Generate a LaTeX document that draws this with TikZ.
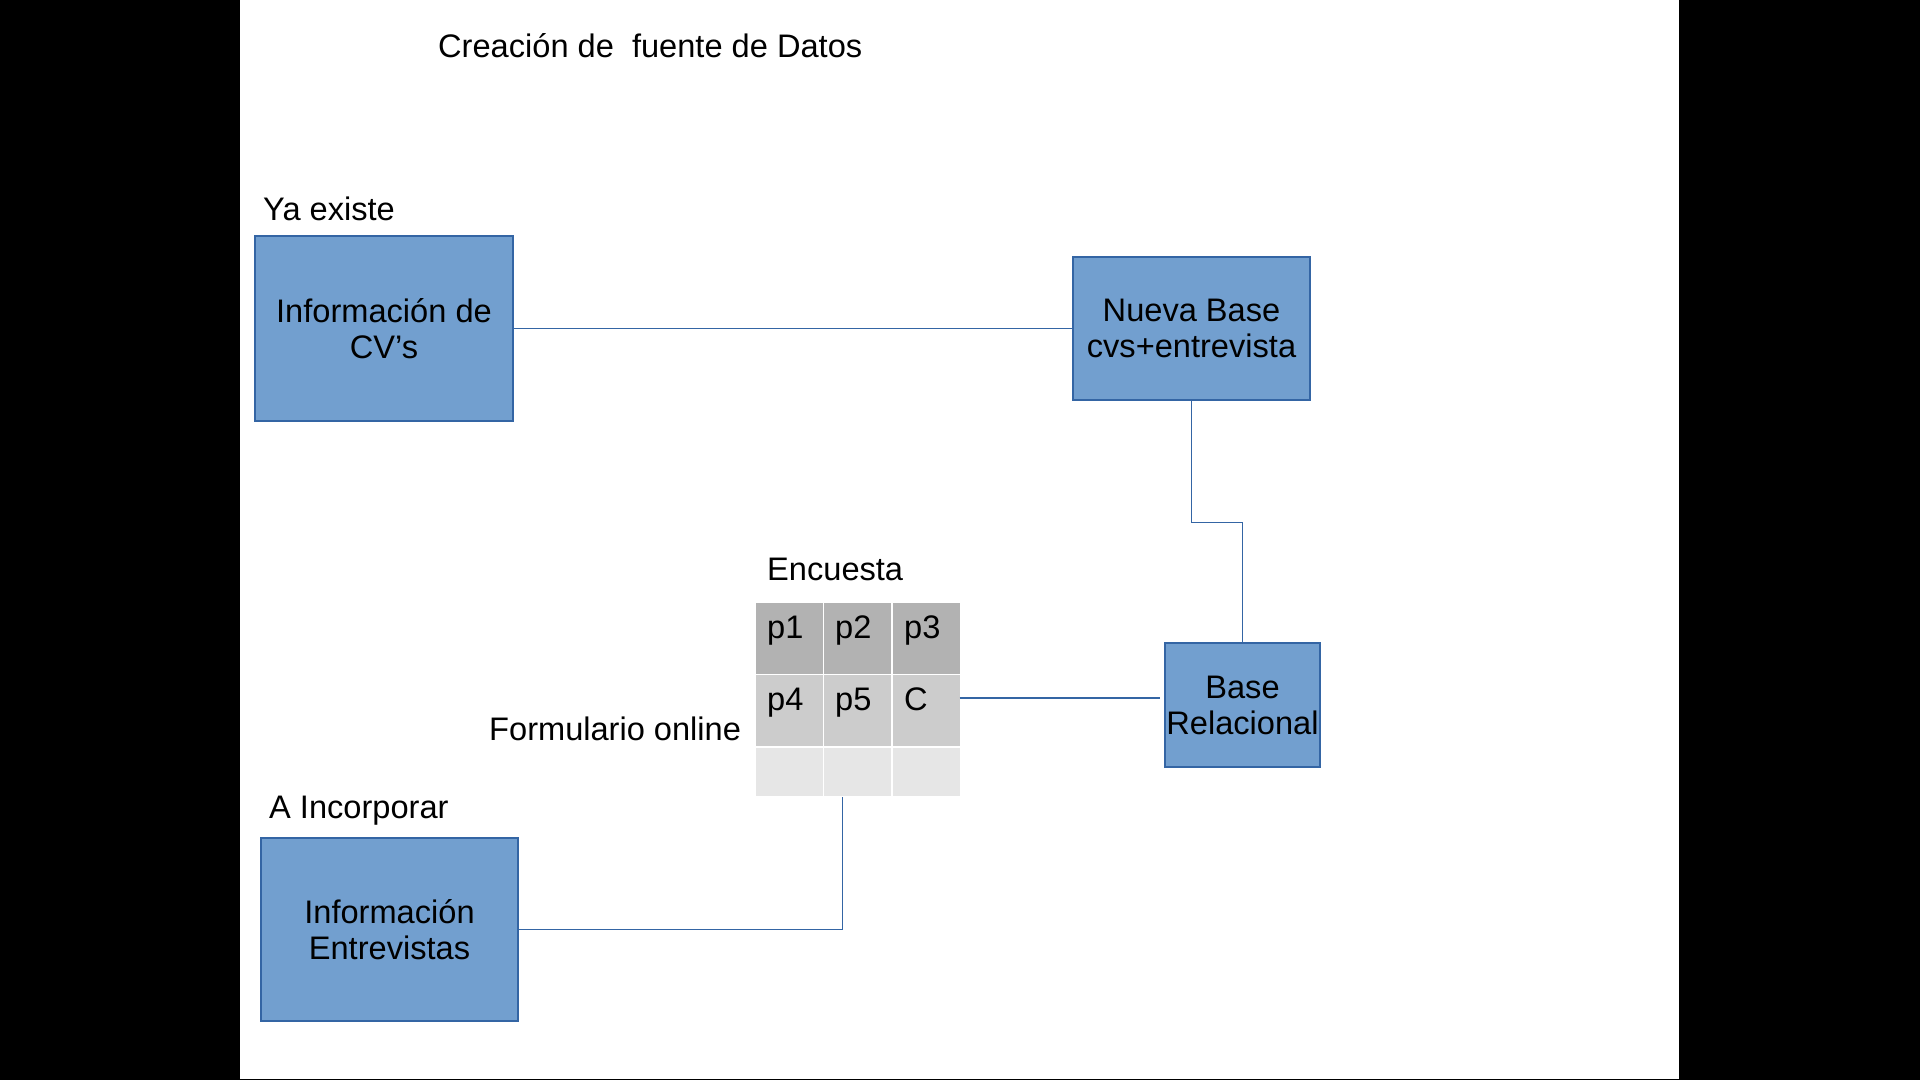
\documentclass[tikz,border=0pt]{standalone}
\usepackage{fontspec}
\setmainfont{Liberation Sans}
\newcommand\bigtxt{\fontsize{32.6}{36}\selectfont}
\definecolor{boxfill}{HTML}{729FCF}
\definecolor{boxline}{HTML}{3465A4}
\definecolor{hdr}{HTML}{B2B2B2}
\definecolor{rowa}{HTML}{CCCCCC}
\definecolor{rowb}{HTML}{E6E6E6}
\begin{document}
\begin{tikzpicture}[x=1pt,y=-1pt,
  box/.style={draw=boxline,fill=boxfill,line width=1.2pt,inner sep=0pt,align=center,font=\bigtxt},
  conn/.style={draw=boxline,line width=1.3pt},
  lbl/.style={anchor=base west,inner sep=0pt,font=\bigtxt},
  cellbox/.style={draw=white,line width=1.5pt,anchor=north west,minimum width=68.5pt,inner sep=0pt},
  tall/.style={minimum height=72.5pt},
  short/.style={minimum height=50pt}
]
\useasboundingbox (0,0) rectangle (1920,1080);
\fill[black] (0,0) rectangle (1920,1080);
\fill[white] (240,0) rectangle (1679,1079);

% labels
\node[lbl] (title) at (438,57) {Creación de\ \ fuente de Datos};
\node[lbl] (ya) at (263,220) {Ya existe};
\node[lbl] (enc) at (767,580) {Encuesta};
\node[lbl] (form) at (489,740) {Formulario online};
\node[lbl] (inc) at (269,818) {A Incorporar};

% boxes
\node[box,minimum width=258pt,minimum height=185pt] (b1) at (384,328.5) {Información de\\CV’s};
\node[box,minimum width=237pt,minimum height=143pt] (b2) at (1191.5,328.5) {Nueva Base\\cvs+entrevista};
\node[box,minimum width=155pt,minimum height=124pt] (base) at (1242.5,705) {Base\\Relacional};
\node[box,minimum width=257pt,minimum height=183pt] (b3) at (389.5,929.5) {Información\\Entrevistas};

% table
\node[cellbox,tall,fill=hdr] (c11) at (754,601) {};
\node[cellbox,tall,fill=hdr] (c12) at (822.5,601) {};
\node[cellbox,tall,fill=hdr] (c13) at (891,601) {};
\node[cellbox,tall,fill=rowa] (c21) at (754,673.5) {};
\node[cellbox,tall,fill=rowa] (c22) at (822.5,673.5) {};
\node[cellbox,tall,fill=rowa] (c23) at (891,673.5) {};
\node[cellbox,short,fill=rowb] (c31) at (754,746) {};
\node[cellbox,short,fill=rowb] (c32) at (822.5,746) {};
\node[cellbox,short,fill=rowb] (c33) at (891,746) {};

\node[lbl] (p1) at (767,638) {p1};
\node[lbl] (p2) at (835,638) {p2};
\node[lbl] (p3) at (904,638) {p3};
\node[lbl] (p4) at (767,710) {p4};
\node[lbl] (p5) at (835,710) {p5};
\node[lbl] (pc) at (904,710) {C};

% connectors
\draw[conn] (b1.east) -- (b2.west);
\draw[conn] (b2.south) -- ++(0,122) -| (base.north);
\coordinate (tr) at (959.5,698);
\draw[conn] (tr) -- ([xshift=-4pt]tr -| base.west);
\coordinate (tb) at (842.5,797);
\draw[conn] (b3.east) -| (tb);
\end{tikzpicture}
\end{document}
